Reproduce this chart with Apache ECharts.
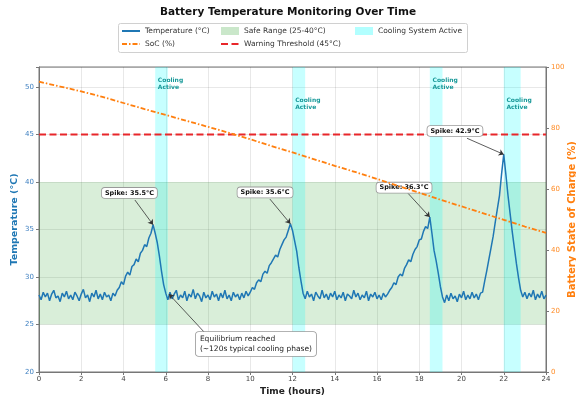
<!DOCTYPE html>
<html><head><meta charset="utf-8">
<script src="https://cdn.jsdelivr.net/npm/echarts@6/dist/echarts.min.js"></script>
<style>html,body{margin:0;padding:0;background:#fff}#c{width:576px;height:402px}</style>
</head><body><div id="c"></div>
<script>
// ---- data ----
const tempStepHours = 0.1;
const temperature = [
 28.1,27.6,28.4,27.9,28.3,27.5,28.2,28.6,27.8,28.0,
 27.4,28.3,27.9,28.5,27.7,28.1,27.6,28.4,28.0,27.5,
 28.2,28.7,27.8,28.1,27.4,28.3,27.9,28.6,27.7,28.2,
 27.6,28.4,27.9,28.1,27.5,28.3,28.0,28.6,28.9,29.5,
 29.2,30.1,30.5,30.2,31.1,31.3,31.9,31.6,32.5,32.8,
 33.4,33.2,34.1,34.6,35.5,34.6,33.6,32.2,30.6,29.2,
 28.3,27.6,28.4,27.7,28.2,28.6,27.6,28.1,27.8,28.5,
 27.5,28.2,27.9,28.7,27.7,28.3,28.0,27.4,28.4,27.8,
 28.1,27.6,28.5,27.9,28.2,27.5,28.3,27.8,28.6,27.7,
 28.1,27.5,28.4,27.9,28.2,27.6,28.3,27.8,28.5,28.0,
 28.4,28.9,28.7,29.4,29.7,29.5,30.3,30.6,30.4,31.2,
 31.5,31.9,32.3,32.1,32.9,33.4,33.9,34.2,34.9,35.6,
 34.9,33.8,32.7,31.0,29.6,28.3,27.7,28.5,27.9,28.2,
 27.5,28.4,28.0,27.7,28.6,27.8,28.2,27.6,28.3,27.9,
 28.5,27.6,28.1,27.8,28.4,27.5,28.2,28.0,27.7,28.6,
 27.9,28.3,27.6,28.1,27.8,28.5,27.5,28.2,27.9,28.4,
 27.7,28.1,27.6,28.3,27.9,28.2,28.6,28.9,29.4,29.2,
 30.0,30.3,30.1,30.9,31.3,31.8,31.6,32.4,32.9,33.2,
 33.9,34.0,34.8,35.3,35.1,36.3,34.6,32.8,31.7,30.4,
 29.0,27.9,27.3,28.1,27.5,28.3,27.7,28.0,27.4,28.2,
 27.8,28.5,27.6,28.1,27.7,28.4,27.8,28.2,27.6,28.3,
 28.4,29.6,30.7,31.9,33.1,34.3,35.8,37.2,38.6,40.9,
 42.9,40.8,38.6,36.7,34.8,33.1,31.4,29.9,28.6,27.9,
 28.4,27.7,28.3,27.9,28.6,27.6,28.2,27.8,28.5,27.7,
 28.1
];
const socHours = [0,1,2,3,4,5,6,7,8,9,10,11,12,13,14,15,16,17,18,19,20,21,22,23,24];
const socValues = [95.2,93.6,92.0,90.2,88.2,86.2,84.3,82.3,80.4,78.4,76.3,74.1,72.0,69.8,67.6,65.5,63.3,61.0,58.8,56.5,54.3,52.1,49.9,47.7,45.6];
const safeRange = [25, 40];
const warningThreshold = 45;
const coolingStart = [5.5, 12.0, 18.5, 22.0];
const coolingEnd   = [6.1, 12.6, 19.1, 22.8];
const spikeTimes = [5.4, 11.9, 18.5, 22.0];
const spikeTemps = [35.5, 35.6, 36.3, 42.9];
const equilibriumPoint = [6.15, 28.2];
const xTicks = [0,2,4,6,8,10,12,14,16,18,20,22,24];
const tempTicks = [20,25,30,35,40,45,50];
const socTicks = [0,20,40,60,80,100];

// ---- layout (annotation placement, in axis units) ----
const spikeBoxPos   = [[4.28,38.85],[10.7,38.9],[17.28,39.4],[19.69,45.37]];
const spikeArrowFrom = [[4.54,38.1],[10.93,38.2],[17.47,38.8],[20.26,44.6]];
const coolLabelY = [50.3, 48.2, 50.3, 48.2];
const eqBoxAnchor = [7.45, 22.9];
const eqArrowFrom = [7.86, 24.1];

const FONT = 'DejaVu Sans';
const tempData = temperature.map((v, i) => [Math.round(i * tempStepHours * 100) / 100, v]);
const socData = socHours.map((h, i) => [h, socValues[i]]);

const chart = echarts.init(document.getElementById('c'), null, {renderer: 'canvas'});
const legendText = {fontFamily: FONT, fontSize: 7.5, color: '#333'};
const noSym = {opacity: 0};

const option = {
  animation: false,
  backgroundColor: '#fff',
  textStyle: {fontFamily: FONT},
  title: {
    text: 'Battery Temperature Monitoring Over Time',
    left: 'center', top: 2,
    textStyle: {fontFamily: FONT, fontSize: 10.5, fontWeight: 'bold', color: '#111'}
  },
  graphic: [{
    type: 'rect', left: 118, top: 23, z: 0,
    shape: {width: 349, height: 29, r: 2},
    style: {fill: '#fff', stroke: '#d0d0d0', lineWidth: 1}
  }],
  legend: [
    {orient: 'vertical', left: 121, top: 27, padding: 0, itemGap: 5, itemWidth: 18, itemHeight: 8,
     textStyle: legendText,
     data: [{name: 'Temperature (°C)', itemStyle: noSym}, {name: 'SoC (%)', itemStyle: noSym}]},
    {orient: 'vertical', left: 220, top: 27, padding: 0, itemGap: 5, itemWidth: 18, itemHeight: 8,
     textStyle: legendText,
     data: [{name: 'Safe Range (25-40°C)', icon: 'rect', itemStyle: {color: 'rgba(44,160,44,0.25)'}},
            {name: 'Warning Threshold (45°C)', itemStyle: noSym}]},
    {orient: 'vertical', left: 355, top: 27, padding: 0, itemGap: 5, itemWidth: 18, itemHeight: 8,
     textStyle: legendText,
     data: [{name: 'Cooling System Active', icon: 'rect', itemStyle: {color: 'rgba(0,255,255,0.3)'}}]}
  ],
  grid: {left: 39, right: 30, top: 67, bottom: 30, show: true, borderColor: '#777', borderWidth: 1,
         backgroundColor: '#fff', containLabel: false, outerBoundsMode: 'none'},
  xAxis: {
    type: 'value', min: xTicks[0], max: xTicks[xTicks.length - 1], interval: 2,
    name: 'Time (hours)', nameLocation: 'middle', nameGap: 15, nameMoveOverlap: false,
    nameTextStyle: {fontFamily: FONT, fontSize: 9, fontWeight: 'bold', color: '#222'},
    axisLine: {show: true, lineStyle: {color: '#777'}},
    axisTick: {show: true, length: 3, lineStyle: {color: '#777'}},
    axisLabel: {fontFamily: FONT, fontSize: 7, color: '#444', margin: 4},
    splitLine: {show: true, lineStyle: {color: 'rgba(0,0,0,0.09)'}}
  },
  yAxis: [{
    type: 'value', min: tempTicks[0], max: 52.1, interval: 5,
    name: 'Temperature (°C)', nameLocation: 'middle', nameGap: 19, nameMoveOverlap: false,
    nameTextStyle: {fontFamily: FONT, fontSize: 9.5, fontWeight: 'bold', color: '#1f77b4'},
    axisLine: {show: true, lineStyle: {color: '#777'}},
    axisTick: {show: true, length: 3, lineStyle: {color: '#777'}},
    axisLabel: {fontFamily: FONT, fontSize: 7, color: '#3d7fc0', margin: 5,
      formatter: v => (tempTicks.indexOf(v) >= 0 ? String(v) : '')},
    splitLine: {show: true, lineStyle: {color: 'rgba(0,0,0,0.09)'}}
  }, {
    type: 'value', min: socTicks[0], max: socTicks[socTicks.length - 1], interval: 20,
    position: 'right',
    name: 'Battery State of Charge (%)', nameLocation: 'middle', nameGap: 21, nameMoveOverlap: false,
    nameTextStyle: {fontFamily: FONT, fontSize: 10, fontWeight: 'bold', color: '#ff7f0e'},
    axisLine: {show: true, lineStyle: {color: '#777'}},
    axisTick: {show: true, length: 3, lineStyle: {color: '#777'}},
    axisLabel: {fontFamily: FONT, fontSize: 7, color: '#ff8c26', margin: 5},
    splitLine: {show: false}
  }],
  series: [
    {
      name: 'Safe Range (25-40°C)', type: 'line', data: [], symbol: 'none',
      itemStyle: {color: 'rgba(44,160,44,0.25)'},
      markArea: {silent: true, itemStyle: {color: 'rgba(44,160,44,0.18)'},
        data: [[{yAxis: safeRange[0]}, {yAxis: safeRange[1]}]]}
    },
    {
      name: 'Cooling System Active', type: 'line', data: [], symbol: 'none',
      itemStyle: {color: 'rgba(0,255,255,0.3)'},
      markArea: {silent: true, itemStyle: {color: 'rgba(0,255,255,0.22)'},
        data: coolingStart.map((s, i) => [{xAxis: s}, {xAxis: coolingEnd[i]}])}
    },
    {
      name: 'Warning Threshold (45°C)', type: 'line', symbol: 'none',
      data: [[xTicks[0], warningThreshold], [xTicks[xTicks.length - 1], warningThreshold]],
      itemStyle: {color: '#e8262a'},
      lineStyle: {color: '#e8262a', width: 2, type: [7, 3.5]}, z: 3
    },
    {
      name: 'Temperature (°C)', type: 'line', symbol: 'none', data: tempData,
      itemStyle: {color: '#1f77b4'}, lineStyle: {color: '#1f77b4', width: 1.5}, z: 4
    },
    {
      name: 'SoC (%)', type: 'line', yAxisIndex: 1, symbol: 'none', data: socData,
      itemStyle: {color: '#ff7f0e'}, lineStyle: {color: '#ff7f0e', width: 1.8, type: [5, 2, 1.5, 2]}, z: 5
    },
    {
      name: 'annot', type: 'line', data: [], symbol: 'none', z: 10,
      markLine: {
        silent: true, symbol: ['none', 'arrow'], symbolSize: 5,
        label: {show: false},
        lineStyle: {color: '#333', width: 0.8, type: 'solid', curveness: 0.2},
        data: spikeTimes.map((t, i) => [{coord: spikeArrowFrom[i]}, {coord: [t, spikeTemps[i]]}])
          .concat([[{coord: eqArrowFrom, lineStyle: {curveness: 0.2}}, {coord: equilibriumPoint}]])
      },
      markPoint: {
        silent: true,
        data: spikeTimes.map((t, i) => ({
          name: 'Spike: ' + spikeTemps[i].toFixed(1) + '°C', coord: spikeBoxPos[i],
          symbol: 'rect', symbolSize: 1, itemStyle: {color: 'rgba(0,0,0,0)'},
          label: {show: true, position: 'inside', formatter: '{b}', fontFamily: FONT, fontSize: 6.5,
            fontWeight: 'bold', color: '#111', backgroundColor: '#fff', borderColor: '#999',
            borderWidth: 0.8, borderRadius: 3, padding: [2, 3, 1, 3]}
        })).concat(coolingStart.map((s, i) => ({
          name: 'Cooling\nActive', coord: [s + 0.15, coolLabelY[i]],
          symbol: 'rect', symbolSize: 1, itemStyle: {color: 'rgba(0,0,0,0)'},
          label: {show: true, position: [0, 0], align: 'left', verticalAlign: 'middle', formatter: '{b}',
            fontFamily: FONT, fontSize: 6, lineHeight: 7, fontWeight: 'bold', color: '#1a9a9a'}
        }))).concat([{
          name: 'Equilibrium reached\n(~120s typical cooling phase)', coord: eqBoxAnchor,
          symbol: 'rect', symbolSize: 1, itemStyle: {color: 'rgba(0,0,0,0)'},
          label: {show: true, position: [0, 0], align: 'left', verticalAlign: 'middle', formatter: '{b}',
            fontFamily: FONT, fontSize: 7.5, lineHeight: 10, color: '#222', backgroundColor: '#fff',
            borderColor: '#999', borderWidth: 0.8, borderRadius: 3, padding: [2, 4, 2, 4]}
        }])
      }
    }
  ]
};
chart.setOption(option);
</script></body></html>
